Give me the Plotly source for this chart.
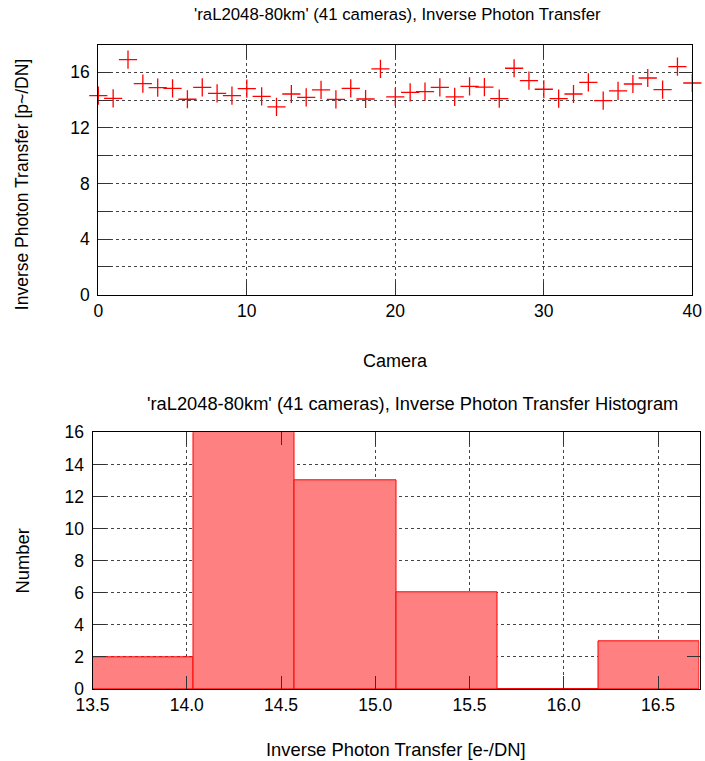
import plotly.graph_objects as go

W, H = 705, 761

# ---- data ----
camera = list(range(41))
inv_photon_transfer = [
    14.32, 14.13, 16.91, 15.18, 14.90, 14.85, 14.06, 14.92, 14.49, 14.32,
    14.82, 14.27, 13.51, 14.44, 14.20, 14.73, 14.05, 14.85, 14.08, 16.24,
    14.23, 14.55, 14.61, 14.92, 14.23, 14.99, 14.94, 14.11, 16.29, 15.40,
    14.78, 14.11, 14.44, 15.28, 13.96, 14.66, 15.16, 15.59, 14.75, 16.41,
    15.23,
]
bin_edges = [13.500, 14.037, 14.573, 15.110, 15.647, 16.184, 16.720]
bin_counts = [2, 16, 13, 6, 0, 3]

top_title = "'raL2048-80km' (41 cameras), Inverse Photon Transfer"
bottom_title = "'raL2048-80km' (41 cameras), Inverse Photon Transfer Histogram"
top_xlabel = "Camera"
top_ylabel = "Inverse Photon Transfer [p~/DN]"
bottom_xlabel = "Inverse Photon Transfer [e-/DN]"
bottom_ylabel = "Number"

top_yticks = [0, 2, 4, 6, 8, 10, 12, 14, 16]
top_yticklabels = ["0", "", "4", "", "8", "", "12", "", "16"]
top_xticks = [0, 10, 20, 30, 40]
bottom_yticks = [0, 2, 4, 6, 8, 10, 12, 14, 16]
bottom_xticks = [13.5, 14.0, 14.5, 15.0, 15.5, 16.0, 16.5]

FONT = "Liberation Sans, Arial, sans-serif"


def px(x):
    return x / W


def py(y):
    return 1 - y / H


centers = [(a + b) / 2 for a, b in zip(bin_edges[:-1], bin_edges[1:])]
widths = [b - a for a, b in zip(bin_edges[:-1], bin_edges[1:])]

fig = go.Figure()

fig.add_trace(go.Scatter(
    x=camera, y=inv_photon_transfer, mode="markers",
    marker=dict(symbol="cross-thin", size=13, color="rgba(0,0,0,0)",
                line=dict(color="#ff0000", width=1.3)),
    xaxis="x", yaxis="y", showlegend=False, cliponaxis=False,
))

fig.add_trace(go.Bar(
    x=centers, y=bin_counts, width=widths,
    marker=dict(color="#ff8080", line=dict(color="#ff0000", width=1)),
    xaxis="x2", yaxis="y2", showlegend=False,
))

# zero-height bins drawn as an outline on the baseline
zx, zy = [], []
for i, c in enumerate(bin_counts):
    if c == 0:
        zx += [bin_edges[i], bin_edges[i + 1], None]
        zy += [c, c, None]
fig.add_trace(go.Scatter(
    x=zx, y=zy, mode="lines", line=dict(color="#ff0000", width=1.5),
    xaxis="x2", yaxis="y2", showlegend=False, cliponaxis=False,
))

axis_common = dict(
    showline=True, linecolor="#000000", linewidth=1, mirror="allticks",
    ticks="inside", ticklen=13, tickwidth=1, tickcolor="#333333",
    showgrid=True, gridcolor="#444444", griddash="dot", gridwidth=1,
    zeroline=False, automargin=False,
    tickfont=dict(family=FONT, size=17.5, color="#000000"),
)

fig.update_layout(
    width=W, height=H,
    margin=dict(l=0, r=0, t=0, b=0),
    paper_bgcolor="white", plot_bgcolor="white",
    font=dict(family=FONT, color="#000000"),
    bargap=0,
    xaxis=dict(domain=[px(98.3), px(692.3)], anchor="y", range=[0, 40],
               tickmode="array", tickvals=top_xticks, **axis_common),
    yaxis=dict(domain=[py(294.7), py(44.5)], anchor="x", range=[0, 18],
               tickmode="array", tickvals=top_yticks, ticktext=top_yticklabels,
               ticklabelstandoff=4, **axis_common),
    xaxis2=dict(domain=[px(92.5), px(699.5)], anchor="y2", range=[13.5, 16.72],
                tickmode="array", tickvals=bottom_xticks, tickformat=".1f",
                **axis_common),
    yaxis2=dict(domain=[py(689), py(432.3)], anchor="x2", range=[0, 16],
                tickmode="array", tickvals=bottom_yticks,
                ticklabelstandoff=4, **axis_common),
)


def label(text, x, y, size=17.5, angle=0):
    fig.add_annotation(text=text, x=px(x), y=py(y), xref="paper", yref="paper",
                       showarrow=False, xanchor="center", yanchor="middle",
                       textangle=angle, font=dict(family=FONT, size=size, color="#000000"))


label(top_title, 397.7, 14.5, size=16.8)
label(top_xlabel, 395, 361, size=18)
label(top_ylabel, 21.5, 184.7, angle=-90)
label(bottom_title, 412.6, 403, size=18.3)
label(bottom_xlabel, 395.7, 749, size=18.4)
label(bottom_ylabel, 21.5, 561, size=18.4, angle=-90)

fig.write_html("out.html", config={"displayModeBar": False},
               post_script="document.body.style.margin='0px';")
